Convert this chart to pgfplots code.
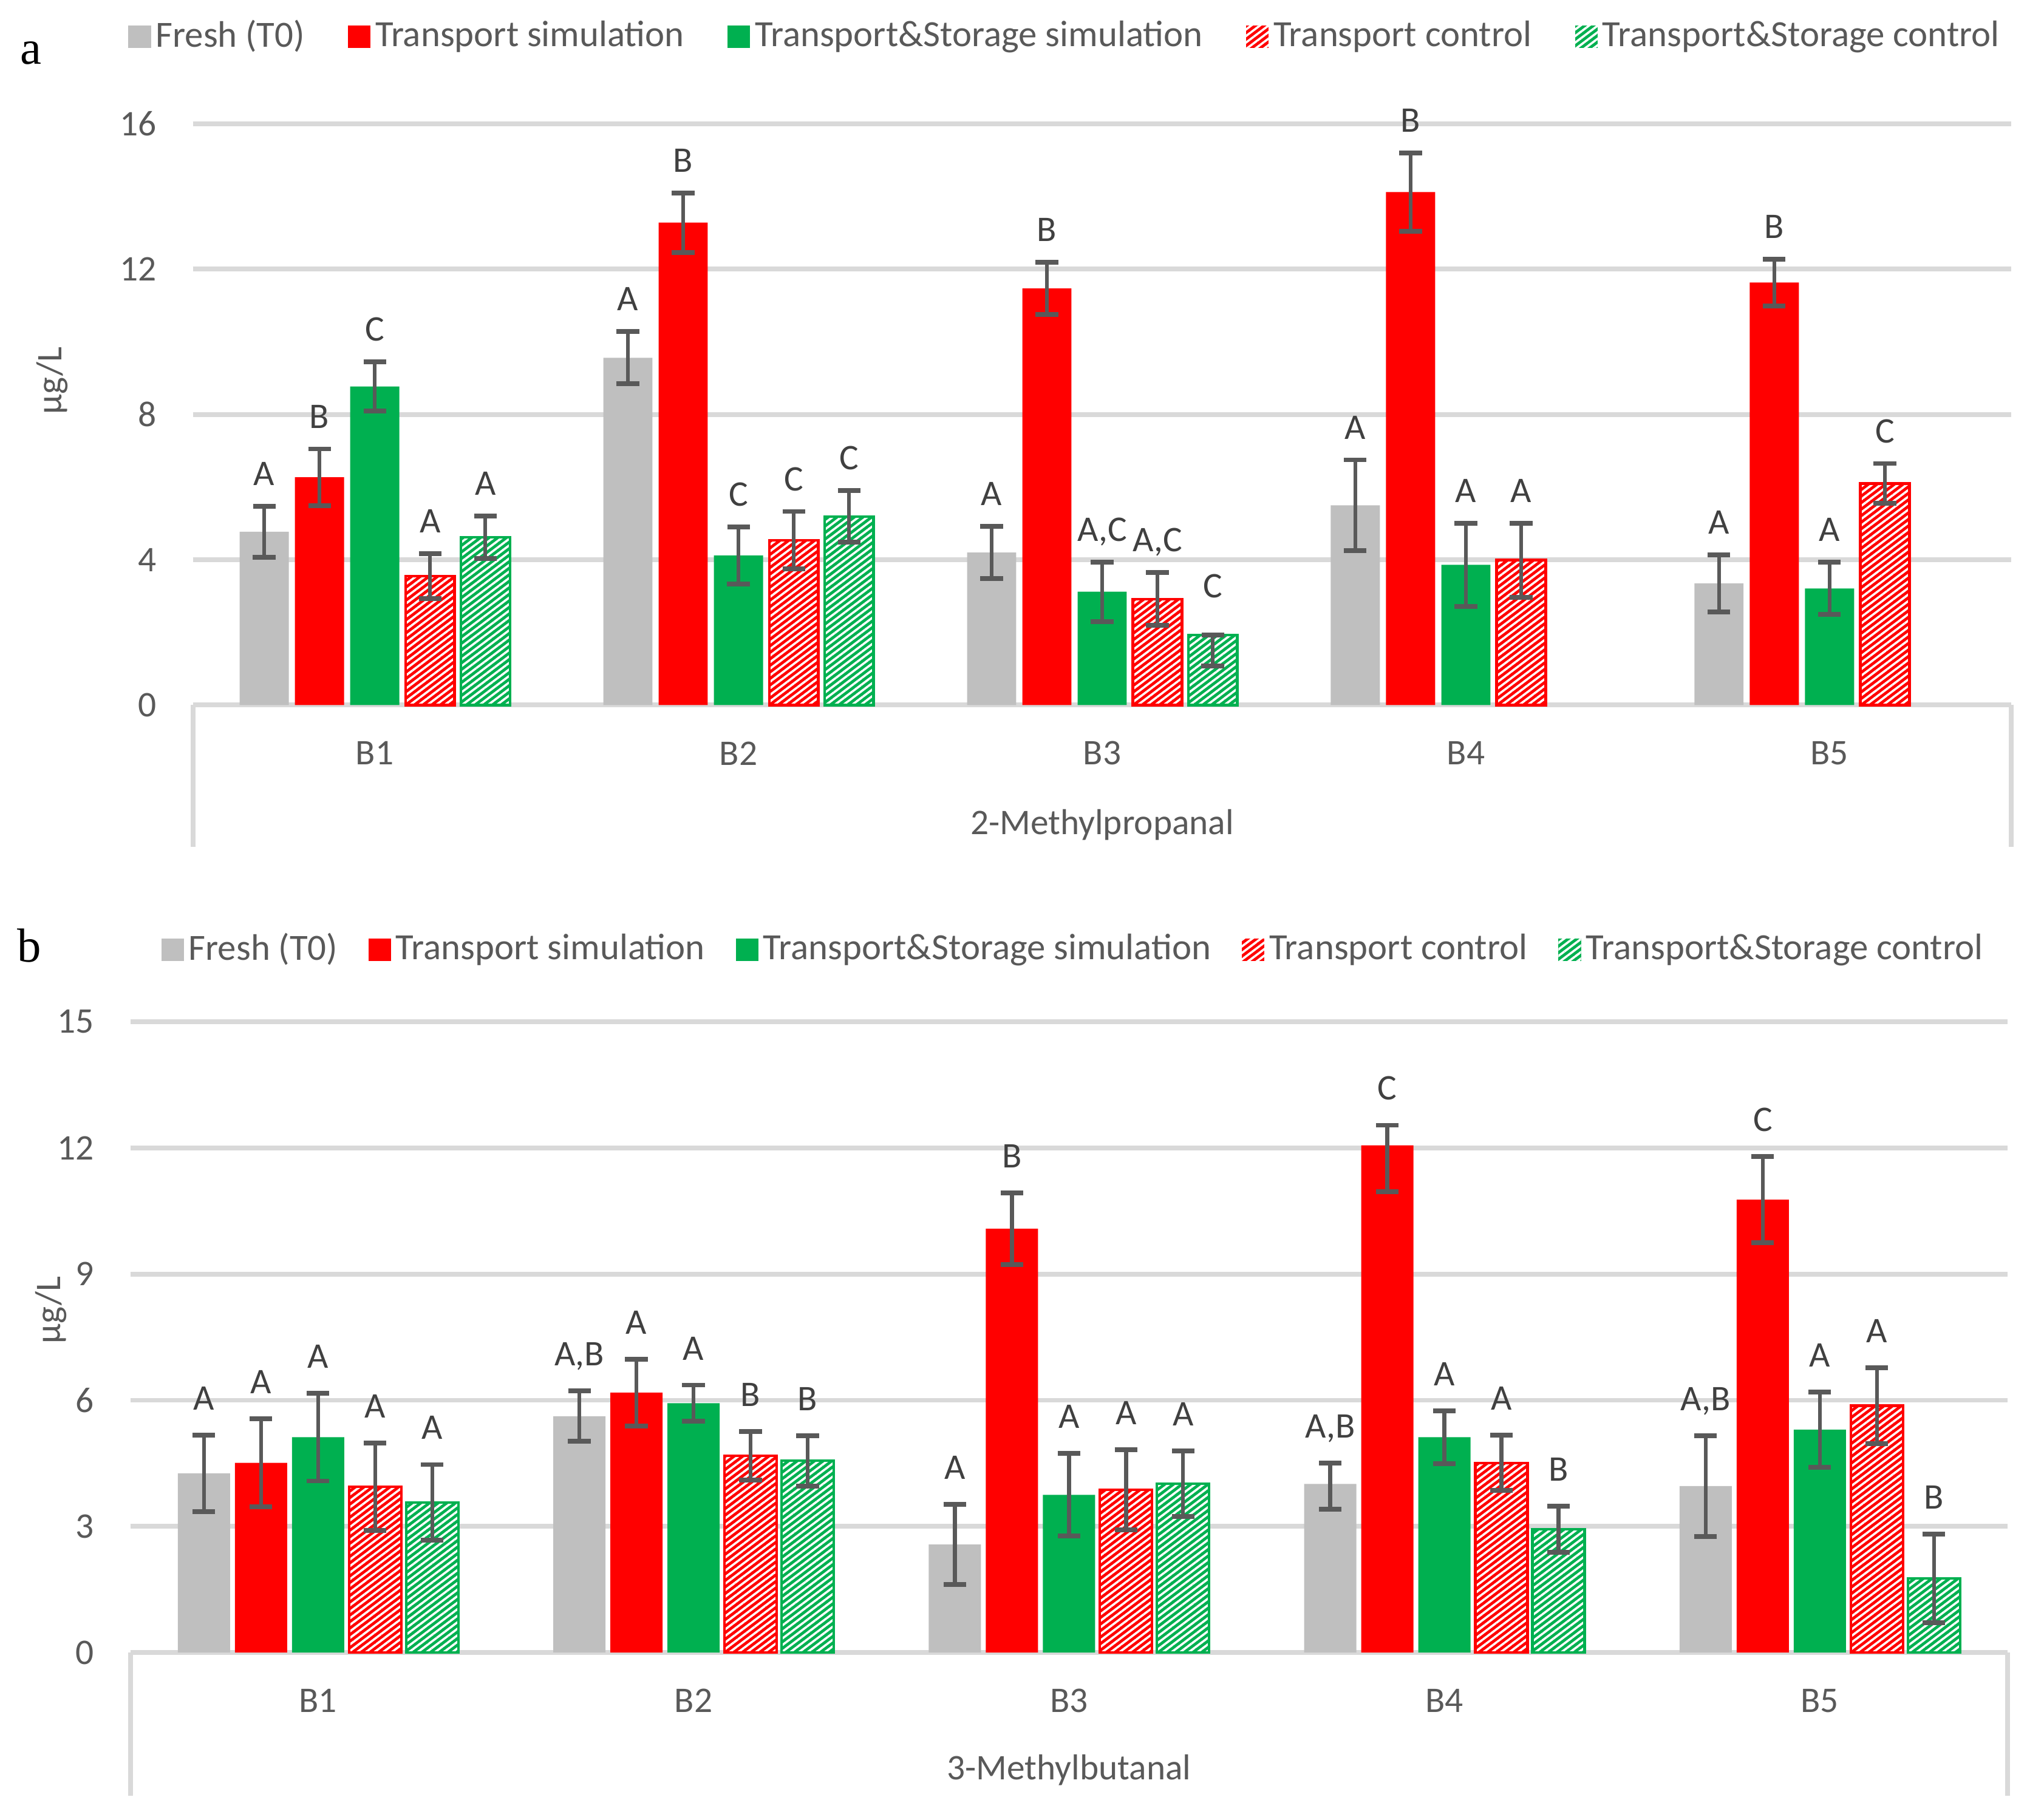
\documentclass[border=0pt]{standalone}
\usepackage{fontspec}
\setmainfont{Carlito}
\newfontfamily\panelfont{Liberation Serif}
\usepackage{pgfplots}
\pgfplotsset{compat=1.18}
\usepackage{pgfplotstable}
\usetikzlibrary{patterns.meta}

\definecolor{freshgray}{HTML}{BFBFBF}
\definecolor{simred}{HTML}{FF0000}
\definecolor{simgreen}{HTML}{00B050}
\definecolor{errgray}{HTML}{595959}
\definecolor{gridgray}{HTML}{D9D9D9}
\definecolor{txtgray}{HTML}{595959}
\definecolor{labgray}{HTML}{404040}

\newcommand\chartfont{\fontsize{8.3}{10}\selectfont}
\newcommand\legfont{\fontsize{8.5}{10}\selectfont}

% x = category (B1..B5 -> 0..4), ep/em = error plus/minus, lp = label offset
% (a) 2-Methylpropanal
\pgfplotstableread{
x y ep em lp lab
0 4.77 0.70 0.70 0.70 A
1 9.56 0.72 0.72 0.72 A
2 4.20 0.72 0.72 0.72 A
3 5.50 1.25 1.25 1.25 A
4 3.35 0.78 0.78 0.78 A
}\aFresh
\pgfplotstableread{
x y ep em lp lab
0 6.27 0.78 0.78 0.78 B
1 13.28 0.82 0.82 0.82 B
2 11.47 0.72 0.72 0.72 B
3 14.12 1.08 1.08 1.08 B
4 11.63 0.65 0.65 0.65 B
}\aTsim
\pgfplotstableread{
x y ep em lp lab
0 8.77 0.68 0.68 0.68 C
1 4.12 0.79 0.79 0.79 C
2 3.12 0.82 0.82 0.82 A,C
3 3.86 1.15 1.15 1.15 A
4 3.21 0.72 0.72 0.72 A
}\aTSsim
\pgfplotstableread{
x y ep em lp lab
0 3.55 0.62 0.62 0.62 A
1 4.54 0.79 0.79 0.79 C
2 2.92 0.73 0.73 0.73 A,C
3 3.99 1.02 1.02 1.02 A
4 6.10 0.55 0.55 0.55 C
}\aTctl
\pgfplotstableread{
x y ep em lp lab
0 4.62 0.59 0.59 0.59 A
1 5.19 0.71 0.71 0.71 C
2 1.93 0.00 0.85 0.45 C
}\aTSctl

% (b) 3-Methylbutanal
\pgfplotstableread{
x y ep em lp lab
0 4.26 0.91 0.91 0.91 A
1 5.62 0.60 0.60 0.60 A,B
2 2.57 0.95 0.95 0.95 A
3 4.01 0.50 0.60 0.50 A,B
4 3.96 1.20 1.20 1.20 A,B
}\bFresh
\pgfplotstableread{
x y ep em lp lab
0 4.51 1.05 1.05 1.05 A
1 6.18 0.80 0.80 0.80 A
2 10.08 0.85 0.85 0.85 B
3 12.06 0.48 1.10 0.48 C
4 10.77 1.03 1.03 1.03 C
}\bTsim
\pgfplotstableread{
x y ep em lp lab
0 5.12 1.04 1.04 1.04 A
1 5.93 0.43 0.43 0.43 A
2 3.75 0.98 0.98 0.98 A
3 5.12 0.63 0.63 0.63 A
4 5.30 0.90 0.90 0.90 A
}\bTSsim
\pgfplotstableread{
x y ep em lp lab
0 3.94 1.04 1.04 1.04 A
1 4.68 0.58 0.58 0.58 B
2 3.87 0.95 0.95 0.95 A
3 4.51 0.66 0.66 0.66 A
4 5.87 0.90 0.90 0.90 A
}\bTctl
\pgfplotstableread{
x y ep em lp lab
0 3.57 0.90 0.90 0.90 A
1 4.56 0.60 0.60 0.60 B
2 4.01 0.78 0.78 0.78 A
3 2.93 0.55 0.55 0.55 B
4 1.76 1.05 1.05 1.05 B
}\bTSctl

\tikzset{hatch/.style={pattern={Lines[angle=37,distance=1.2pt,line width=0.5pt]}, pattern color=white}}

\pgfplotsset{
  chart/.style={
    scale only axis, clip=false,
    ybar,
    xmin=-0.5, xmax=4.5, ymin=0,
    xtick={0,1,2,3,4}, xticklabels={B1,B2,B3,B4,B5},
    axis line style={draw=none},
    major tick length=0pt,
    ymajorgrids, grid style={gridgray, line width=1.1pt},
    tick label style={font=\chartfont, text=txtgray},
    /pgf/number format/assume math mode=true,
    yticklabel style={anchor=east, inner sep=0pt, xshift=-8.2pt},
    xticklabel style={anchor=center, inner sep=0pt, yshift=-11.1pt},
    legend style={draw=none, fill=none, legend columns=5, font=\legfont, text=txtgray,
      nodes={inner sep=0.6pt},
      /tikz/every odd column/.append style={column sep=0.5pt}},
    legend image code/.code={\path[##1] (0pt,-2.6pt) rectangle (5.2pt,2.6pt);},
  },
  errs/.style={
    error bars/y dir=both, error bars/y explicit,
    error bars/error bar style={draw=errgray, line width=0.9pt},
    error bars/error mark options={draw=errgray, rotate=90, line width=1.1pt, mark size=2.6pt},
  },
  % invisible bars up to the error-bar top, carrying the letter labels
  labs/.style={
    forget plot, draw=none, fill=none,
    point meta=explicit symbolic,
    nodes near coords,
    every node near coord/.append style={anchor=south, inner sep=0pt, text depth=0pt,
      yshift=#1, font=\chartfont, text=labgray},
  },
}

% solid bars with error bars
\newcommand\series[3]{% colour, shift, table
  \addplot[fill=#1, draw=none, bar shift=#2, errs] table[x=x, y=y, y error plus=ep, y error minus=em] {#3};
}
% hatched bars: solid fill, then a white-line overlay with border and error bars
\newcommand\hseries[3]{% colour, shift, table
  \addplot[fill=#1, draw=none, bar shift=#2,
    legend image code/.code={\fill[#1] (0pt,-2.6pt) rectangle (5.2pt,2.6pt);
      \fill[hatch] (0pt,-2.6pt) rectangle (5.2pt,2.6pt);}] table[x=x, y=y] {#3};
}
\newcommand\hoverlay[3]{% colour, shift, table
  \addplot[forget plot, hatch, draw=#1, line width=0.6pt, bar shift=#2, errs]
    table[x=x, y=y, y error plus=ep, y error minus=em] {#3};
}
\newcommand\labels[3]{% shift, table, label gap
  \addplot[labs=#3, bar shift=#1] table[x=x, y expr=\thisrow{y}+\thisrow{lp}, meta=lab] {#2};
}

\begin{document}
\begin{tikzpicture}
\useasboundingbox (0pt,0pt) rectangle (470.4pt,-418.2pt);

\node[anchor=base west, font=\panelfont\fontsize{11}{13}\selectfont, inner sep=0pt] at (4.5pt,-14.7pt) {a};
\node[anchor=base west, font=\panelfont\fontsize{11}{13}\selectfont, inner sep=0pt] at (3.8pt,-221.4pt) {b};

% panel a
\begin{axis}[chart,
  at={(44.4pt,-162.3pt)}, anchor=south west,
  width=418.5pt, height=133.8pt,
  bar width=0.135,
  ymax=16, ytick={0,4,8,12,16},
  xlabel={2-Methylpropanal},
  every axis x label/.style={at={(axis description cs:0.5,-0.206)}, anchor=center, font=\chartfont, text=txtgray},
  ylabel={µg/L},
  every axis y label/.style={at={(axis description cs:-0.0774,0.558)}, rotate=90, anchor=center, font=\chartfont, text=txtgray},
  legend style={at={(axis description cs:0.4797,1.150)}, anchor=center,
    /tikz/every even column/.append style={column sep=9.35pt}},
]
\series{freshgray}{-0.304}{\aFresh}
\series{simred}{-0.152}{\aTsim}
\series{simgreen}{0}{\aTSsim}
\hseries{simred}{0.152}{\aTctl}
\hseries{simgreen}{0.304}{\aTSctl}
\legend{Fresh (T0), Transport simulation, Transport\&Storage simulation, Transport control, Transport\&Storage control}
\hoverlay{simred}{0.152}{\aTctl}
\hoverlay{simgreen}{0.304}{\aTSctl}
\labels{-0.304}{\aFresh}{4.6pt}
\labels{-0.152}{\aTsim}{4.6pt}
\labels{0}{\aTSsim}{4.6pt}
\labels{0.152}{\aTctl}{4.6pt}
\labels{0.304}{\aTSctl}{4.6pt}
\draw[gridgray, line width=1.1pt] (rel axis cs:0,0) -- ++(0pt,-32.7pt);
\draw[gridgray, line width=1.1pt] (rel axis cs:1,0) -- ++(0pt,-32.7pt);
\end{axis}

% panel b
\begin{axis}[chart,
  at={(30pt,-380.4pt)}, anchor=south west,
  width=432pt, height=145.2pt,
  bar width=0.139,
  ymax=15, ytick={0,3,6,9,12,15},
  xlabel={3-Methylbutanal},
  every axis x label/.style={at={(axis description cs:0.5,-0.186)}, anchor=center, font=\chartfont, text=txtgray},
  ylabel={µg/L},
  every axis y label/.style={at={(axis description cs:-0.0424,0.543)}, rotate=90, anchor=center, font=\chartfont, text=txtgray},
  legend style={at={(axis description cs:0.5024,1.114)}, anchor=center,
    /tikz/every even column/.append style={column sep=6.5pt}},
]
\series{freshgray}{-0.304}{\bFresh}
\series{simred}{-0.152}{\bTsim}
\series{simgreen}{0}{\bTSsim}
\hseries{simred}{0.152}{\bTctl}
\hseries{simgreen}{0.304}{\bTSctl}
\legend{Fresh (T0), Transport simulation, Transport\&Storage simulation, Transport control, Transport\&Storage control}
\hoverlay{simred}{0.152}{\bTctl}
\hoverlay{simgreen}{0.304}{\bTSctl}
\labels{-0.304}{\bFresh}{5.6pt}
\labels{-0.152}{\bTsim}{5.6pt}
\labels{0}{\bTSsim}{5.6pt}
\labels{0.152}{\bTctl}{5.6pt}
\labels{0.304}{\bTSctl}{5.6pt}
\draw[gridgray, line width=1.1pt] (rel axis cs:0,0) -- ++(0pt,-33pt);
\draw[gridgray, line width=1.1pt] (rel axis cs:1,0) -- ++(0pt,-33pt);
\end{axis}
\end{tikzpicture}
\end{document}
